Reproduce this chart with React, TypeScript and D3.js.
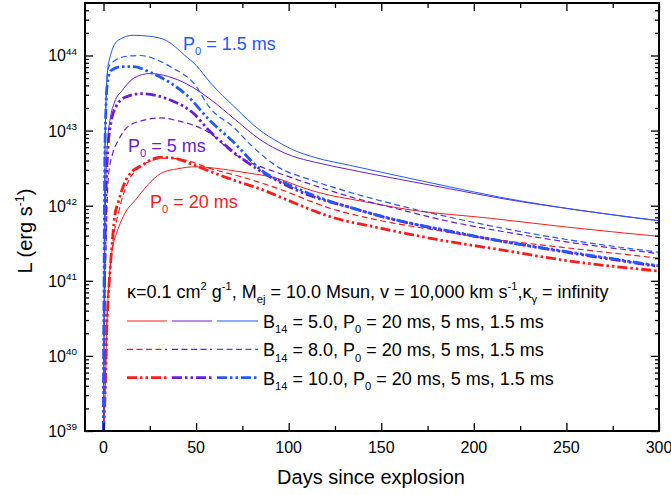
import React, { useEffect, useRef } from "react";
import * as d3 from "d3";

// axis ticks
const xMajorTicks = [0, 50, 100, 150, 200, 250, 300];
const xMinorTicks = [25, 75, 125, 175, 225, 275];
const yDecades = [39, 40, 41, 42, 43, 44];

// light curves, [day, L in erg/s]
// B14 = 5.0
const b5P20 = [[0, 1e39], [0.8, 2.6e39], [1.7, 2.0e40], [3.5, 1.55e41], [5, 2.8e41], [8, 5.0e41], [12, 8.3e41], [17, 1.17e42], [24, 1.9e42], [31, 2.7e42], [40, 3.1e42], [50, 3.3e42], [60, 3.16e42], [75, 2.8e42], [94, 2.3e42], [110, 1.66e42], [122, 1.38e42], [133, 1.23e42], [167, 8.7e41], [209, 6.8e41], [250, 5.2e41], [300, 3.9e41]];
const b5P5 = [[0, 1e39], [0.5, 6.3e40], [1.2, 1.6e42], [2.2, 7.1e42], [3.5, 1.38e43], [6, 2.4e43], [10, 3.4e43], [17, 5.1e43], [25, 5.75e43], [35, 5.25e43], [45, 4.17e43], [57.5, 2.63e43], [71, 1.41e43], [84.5, 7.6e42], [93.7, 5.6e42], [102, 4.57e42], [114, 3.8e42], [133, 3.02e42], [160, 2.24e42], [187, 1.68e42], [214, 1.26e42], [257, 8.7e41], [300, 6.3e41]];
const b5P15 = [[0, 1e39], [0.5, 4e41], [1, 1e43], [2, 5.6e43], [4, 1.05e44], [8, 1.6e44], [16, 1.86e44], [25, 1.8e44], [34, 1.58e44], [44, 1.0e44], [50, 7.4e43], [57.5, 4.4e43], [71, 2.04e43], [84.5, 1.01e43], [93.7, 7.2e42], [102, 5.6e42], [114, 4.4e42], [133, 3.45e42], [160, 2.47e42], [187, 1.78e42], [214, 1.3e42], [257, 8.7e41], [300, 6.3e41]];
// B14 = 8.0
const b8P20 = [[0, 1e39], [1, 6.3e39], [2, 4.0e40], [3.5, 1.26e41], [5, 3.2e41], [8, 7.9e41], [13, 2.0e42], [20, 3.3e42], [30, 4.2e42], [35, 4.3e42], [45, 4.0e42], [57, 3.16e42], [75, 2.4e42], [94, 1.7e42], [122, 9.3e41], [150, 6.3e41], [180, 4.7e41], [210, 3.6e41], [250, 2.75e41], [300, 2.0e41]];
const b8P5 = [[0, 1e39], [0.6, 3.2e40], [1.5, 4.0e41], [2.6, 2.4e42], [5, 5.0e42], [8, 7.4e42], [13, 1.12e43], [22, 1.38e43], [31, 1.48e43], [40, 1.35e43], [49, 1.17e43], [58, 9.1e42], [70, 5.0e42], [80, 3.7e42], [94, 2.75e42], [110, 2.0e42], [133, 1.32e42], [160, 8.9e41], [185, 6.3e41], [214, 4.6e41], [250, 3.3e41], [300, 2.3e41]];
const b8P15 = [[0, 1e39], [0.3, 1e41], [0.7, 4e42], [1.5, 3.2e43], [2.6, 6.9e43], [6, 8.5e43], [13, 9.8e43], [20, 1.0e44], [30, 8.5e43], [37, 6.9e43], [49, 4.2e43], [57.5, 2.0e43], [70, 1.12e43], [80, 6.3e42], [94, 3.3e42], [111, 2.24e42], [122, 1.82e42], [133, 1.51e42], [160, 1.0e42], [185, 7.2e41], [214, 5.1e41], [250, 3.55e41], [300, 2.4e41]];
// B14 = 10.0
const b10P20 = [[0, 1e39], [1, 4.0e39], [1.7, 2.0e40], [3, 8.9e40], [4.4, 2.6e41], [6, 7.1e41], [8, 1.12e42], [13, 2.4e42], [22, 3.6e42], [30, 4.4e42], [38, 4.3e42], [48, 3.55e42], [57, 2.9e42], [70, 2.2e42], [85, 1.66e42], [100, 1.17e42], [122, 7.2e41], [150, 5.0e41], [180, 3.55e41], [214, 2.6e41], [250, 1.86e41], [300, 1.35e41]];
const b10P5 = [[0, 1e39], [0.5, 6.3e40], [1.2, 1.0e42], [2.5, 6.3e42], [4, 1.26e43], [7, 2.14e43], [12, 2.8e43], [20, 3.1e43], [28, 2.95e43], [37, 2.5e43], [49, 1.66e43], [57, 1.0e43], [66, 6.3e42], [75, 4.2e42], [94, 2.14e42], [110, 1.41e42], [133, 9.5e41], [150, 7.2e41], [180, 4.9e41], [214, 3.4e41], [250, 2.4e41], [300, 1.55e41]];
const b10P15 = [[0, 1e39], [0.3, 1e41], [0.8, 6.3e42], [2, 4.0e43], [4, 6.3e43], [10, 7.1e43], [16, 7.1e43], [25, 6.0e43], [35, 4.5e43], [45, 2.95e43], [57, 1.4e43], [70, 7.1e42], [85, 3.0e42], [102, 1.82e42], [122, 1.15e42], [133, 9.5e41], [160, 6.3e41], [185, 4.7e41], [214, 3.4e41], [250, 2.45e41], [300, 1.58e41]];

const RED = "#ff1a1a";
const PURPLE = "#6a1cd4";
const BLUE = "#2258ff";

const styles: any = {
  solid: { width: 1, dash: null },
  dash: { width: 1.2, dash: "6,3.5" },
  dashdotdot: { width: 2.8, dash: "10,3,2.5,3,2.5,3" },
};

const series = [
  { data: b5P20, color: RED, style: "solid" },
  { data: b5P5, color: PURPLE, style: "solid" },
  { data: b5P15, color: BLUE, style: "solid" },
  { data: b8P20, color: RED, style: "dash" },
  { data: b8P5, color: PURPLE, style: "dash" },
  { data: b8P15, color: BLUE, style: "dash" },
  { data: b10P20, color: RED, style: "dashdotdot" },
  { data: b10P5, color: PURPLE, style: "dashdotdot" },
  { data: b10P15, color: BLUE, style: "dashdotdot" },
];

const FONT = "'Liberation Sans', Arial, Helvetica, sans-serif";

// text with sub/superscript pieces
const richText = (sel: any, x: number, y: number, parts: any[], size: number, color = "black", anchor = "start") => {
  const t = sel
    .append("text")
    .attr("x", x)
    .attr("y", y)
    .attr("font-size", size)
    .attr("fill", color)
    .attr("text-anchor", anchor);
  let shift = 0;
  parts.forEach(([s, kind]: [string, string?]) => {
    const target = kind === "sub" ? size * 0.3 : kind === "sup" ? -size * 0.42 : 0;
    t.append("tspan")
      .attr("dy", target - shift)
      .attr("font-size", kind ? size * 0.62 : size)
      .text(s);
    shift = target;
  });
  return t;
};

const App = () => {
  const ref = useRef<SVGSVGElement>(null);

  useEffect(() => {
    const W = 671;
    const H = 495;
    const left = 85;
    const right = 659;
    const top = 3;
    const bottom = 431;

    const svg = d3.select(ref.current);
    svg.selectAll("*").remove();
    svg.attr("font-family", FONT);

    const x = d3.scaleLinear().domain([-10, 300]).range([left, right]);
    const y = d3.scaleLog().domain([1e39, 5e44]).range([bottom, top]);

    svg.append("rect").attr("width", W).attr("height", H).attr("fill", "white");

    svg
      .append("clipPath")
      .attr("id", "plot-clip")
      .append("rect")
      .attr("x", left)
      .attr("y", top)
      .attr("width", right - left)
      .attr("height", bottom - top);

    // curves
    const line = d3
      .line<any>()
      .x((d) => x(d[0]))
      .y((d) => y(d[1]))
      .curve(d3.curveMonotoneX);

    const curves = svg.append("g").attr("clip-path", "url(#plot-clip)");
    series.forEach((s) => {
      const st = styles[s.style];
      curves
        .append("path")
        .datum(s.data)
        .attr("fill", "none")
        .attr("stroke", s.color)
        .attr("stroke-width", st.width)
        .attr("stroke-dasharray", st.dash)
        .attr("d", line);
    });

    // ticks, all pointing inward
    const yMinor = y.ticks().filter((v) => Math.abs(Math.log10(v) - Math.round(Math.log10(v))) > 1e-6);
    const yMajor = yDecades.map((e) => Math.pow(10, e));

    const tickAxis = (axis: any, transform: string) => {
      const g = svg.append("g").attr("transform", transform).call(axis);
      g.select(".domain").remove();
      g.selectAll("line").attr("stroke", "black").attr("stroke-width", 1.3);
      g.selectAll("text").remove();
    };
    tickAxis(d3.axisBottom(x).tickValues(xMajorTicks).tickSize(-8), `translate(0,${bottom})`);
    tickAxis(d3.axisBottom(x).tickValues(xMinorTicks).tickSize(-5), `translate(0,${bottom})`);
    tickAxis(d3.axisTop(x).tickValues(xMajorTicks).tickSize(-8), `translate(0,${top})`);
    tickAxis(d3.axisTop(x).tickValues(xMinorTicks).tickSize(-5), `translate(0,${top})`);
    tickAxis(d3.axisLeft(y).tickValues(yMajor).tickSize(-8), `translate(${left},0)`);
    tickAxis(d3.axisLeft(y).tickValues(yMinor).tickSize(-4), `translate(${left},0)`);
    tickAxis(d3.axisRight(y).tickValues(yMajor).tickSize(-8), `translate(${right},0)`);
    tickAxis(d3.axisRight(y).tickValues(yMinor).tickSize(-4), `translate(${right},0)`);

    // frame
    svg
      .append("rect")
      .attr("x", left)
      .attr("y", top)
      .attr("width", right - left)
      .attr("height", bottom - top)
      .attr("fill", "none")
      .attr("stroke", "black")
      .attr("stroke-width", 2);

    // tick labels
    xMajorTicks.forEach((v) => {
      svg
        .append("text")
        .attr("x", x(v))
        .attr("y", bottom + 22)
        .attr("text-anchor", "middle")
        .attr("font-size", 16)
        .text(v);
    });
    yDecades.forEach((e) => {
      richText(svg, left - 8, y(Math.pow(10, e)) + 6, [["10"], [String(e), "sup"]], 16, "black", "end");
    });

    // axis titles
    svg
      .append("text")
      .attr("x", (left + right) / 2 - 1)
      .attr("y", 484)
      .attr("text-anchor", "middle")
      .attr("font-size", 20)
      .text("Days since explosion");

    const yTitle = svg.append("g").attr("transform", `translate(32,${(top + bottom) / 2 + 14}) rotate(-90)`);
    richText(yTitle, 0, 0, [["L (erg s"], ["-1", "sup"], [")"]], 20, "black", "middle");

    // in-plot labels
    richText(svg, 183, 50, [["P"], ["0", "sub"], [" = 1.5 ms"]], 18, BLUE);
    richText(svg, 128, 152, [["P"], ["0", "sub"], [" = 5 ms"]], 18, PURPLE);
    richText(svg, 150, 208, [["P"], ["0", "sub"], [" = 20 ms"]], 18, RED);

    // legend
    richText(
      svg,
      127,
      298,
      [
        ["\u03ba=0.1 cm"], ["2", "sup"], [" g"], ["-1", "sup"], [", M"], ["ej", "sub"],
        [" = 10.0 Msun, v = 10,000 km s"], ["-1", "sup"], [",\u03ba"], ["\u03b3", "sub"], [" = infinity"],
      ],
      18
    );

    const rows = [
      { style: "solid", b: "5.0" },
      { style: "dash", b: "8.0" },
      { style: "dashdotdot", b: "10.0" },
    ];
    const swatches = [
      { x0: 127, x1: 167, color: RED },
      { x0: 172, x1: 212, color: PURPLE },
      { x0: 217, x1: 258, color: BLUE },
    ];
    rows.forEach((r, i) => {
      const base = 328 + i * 28.3;
      const st = styles[r.style];
      swatches.forEach((sw) => {
        svg
          .append("line")
          .attr("x1", sw.x0)
          .attr("x2", sw.x1)
          .attr("y1", base - 7)
          .attr("y2", base - 7)
          .attr("stroke", sw.color)
          .attr("stroke-width", st.width)
          .attr("stroke-dasharray", st.dash);
      });
      richText(
        svg,
        263,
        base,
        [["B"], ["14", "sub"], [` = ${r.b}, P`], ["0", "sub"], [" = 20 ms, 5 ms, 1.5 ms"]],
        18
      );
    });
  }, []);

  return (
    <svg
      ref={ref}
      width={671}
      height={495}
      style={{ position: "absolute", left: 0, top: 0 }}
    />
  );
};

export default App;
